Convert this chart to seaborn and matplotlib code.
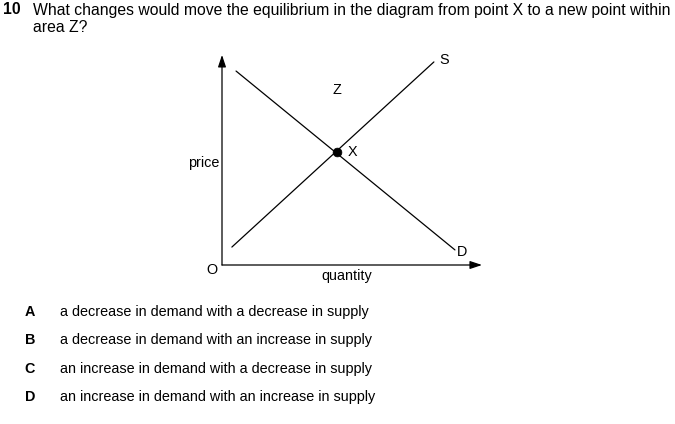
import numpy as np
import pandas as pd
import matplotlib
matplotlib.use("Agg")
import matplotlib.pyplot as plt
import seaborn as sns

# ----------------------------
# Daten (Diagramm-Einheiten: Menge / Preis)
# ----------------------------
demand_q = [0.54, 8.96]
demand_p = [7.46, 0.58]
supply_q = [0.38, 8.15]
supply_p = [0.69, 7.81]
eq_q = [4.42]
eq_p = [4.35]

question_no = "10"
question = ["What changes would move the equilibrium in the diagram from point X to a new point within",
            "area Z?"]
option_keys = ["A", "B", "C", "D"]
option_texts = ["a decrease in demand with a decrease in supply",
                "a decrease in demand with an increase in supply",
                "an increase in demand with a decrease in supply",
                "an increase in demand with an increase in supply"]

sns.set_theme(style="white")
plt.rcParams["font.family"] = ["Liberation Sans", "DejaVu Sans"]
plt.rcParams["text.color"] = "black"

W, H = 675, 424
fig = plt.figure(figsize=(W / 100, H / 100), dpi=100)

# Achsen: Ursprung bei Pixel (222, 265), 26 px pro Einheit
ox, oy, ppu = 222, 265, 26
xmax, ymax = 10.0, 8.08
ax = fig.add_axes([ox / W, 1 - oy / H, xmax * ppu / W, ymax * ppu / H])
ax.set_xlim(0, xmax)
ax.set_ylim(0, ymax)
ax.axis("off")

df_d = pd.DataFrame({"q": demand_q, "p": demand_p})
df_s = pd.DataFrame({"q": supply_q, "p": supply_p})
sns.lineplot(data=df_d, x="q", y="p", ax=ax, color="black", lw=0.9)
sns.lineplot(data=df_s, x="q", y="p", ax=ax, color="black", lw=0.9)
sns.scatterplot(x=eq_q, y=eq_p, ax=ax, color="black", s=40, zorder=5, edgecolor="black")

arrow = dict(arrowstyle="-|>,head_length=0.6,head_width=0.2", color="black", lw=0.9, shrinkA=0, shrinkB=0)
ax.annotate("", xy=(xmax, 0), xytext=(0, 0), arrowprops=arrow, annotation_clip=False)
ax.annotate("", xy=(0, ymax), xytext=(0, 0), arrowprops=arrow, annotation_clip=False)

fs = 10.4
ax.text(8.55, 7.9, "S", fontsize=fs, ha="center", va="center")
ax.text(9.23, 0.5, "D", fontsize=fs, ha="center", va="center")
ax.text(4.42, 6.73, "Z", fontsize=fs, ha="center", va="center")
ax.text(5.0, 4.33, "X", fontsize=fs, ha="center", va="center")

def fx(px):
    return px / W

def fy(py):
    return 1 - py / H

fig.text(fx(219), fy(163), "price", fontsize=fs, ha="right", va="center")
fig.text(fx(212), fy(270), "O", fontsize=fs, ha="center", va="center")
fig.text(fx(347), fy(276), "quantity", fontsize=fs, ha="center", va="center")

# Frage
qfs = 11.3
fig.text(fx(3), fy(10), question_no, fontsize=qfs, weight="bold", ha="left", va="center")
fig.text(fx(33), fy(10), question[0], fontsize=qfs, ha="left", va="center")
fig.text(fx(33), fy(27), question[1], fontsize=qfs, ha="left", va="center")

for i, (k, t) in enumerate(zip(option_keys, option_texts)):
    y = 312 + i * 28.3
    fig.text(fx(30), fy(y), k, fontsize=fs, weight="bold", ha="center", va="center")
    fig.text(fx(60), fy(y), t, fontsize=fs, ha="left", va="center")

fig.savefig("out.png", dpi=100)
